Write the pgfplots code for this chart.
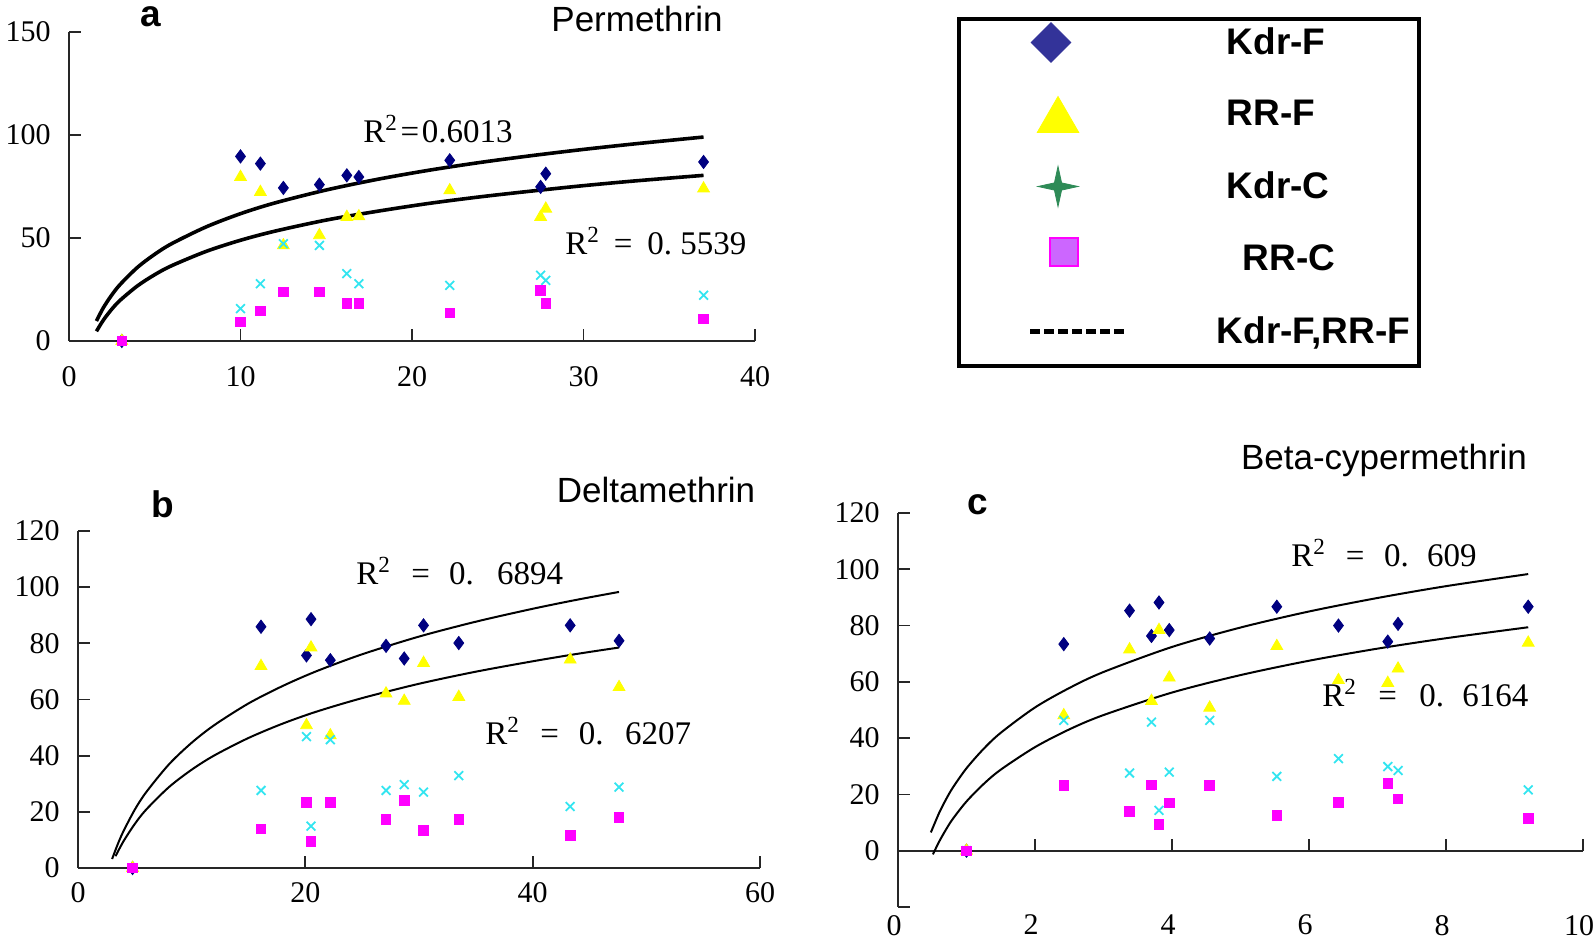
\documentclass[border=0pt]{standalone}
\usepackage{fontspec}
\setmainfont{Liberation Serif}
\newfontfamily\arial{Liberation Sans}
\usepackage{pgfplots}
\usepackage{pgfplotstable}
\pgfplotsset{compat=1.18}

\definecolor{kdrf}{HTML}{000080}
\definecolor{rrf}{HTML}{FFFF00}
\definecolor{kdrc}{HTML}{33E5F0}
\definecolor{rrc}{HTML}{FF00FF}
\definecolor{legblue}{HTML}{333399}
\definecolor{leggreen}{HTML}{2E8B57}
\definecolor{legviolet}{HTML}{CC66FF}

\pgfdeclareplotmark{star4}{%
  \pgfpathmoveto{\pgfqpoint{0pt}{\pgfplotmarksize}}%
  \pgfpathlineto{\pgfqpoint{.18\pgfplotmarksize}{.18\pgfplotmarksize}}%
  \pgfpathlineto{\pgfqpoint{\pgfplotmarksize}{0pt}}%
  \pgfpathlineto{\pgfqpoint{.18\pgfplotmarksize}{-.18\pgfplotmarksize}}%
  \pgfpathlineto{\pgfqpoint{0pt}{-\pgfplotmarksize}}%
  \pgfpathlineto{\pgfqpoint{-.18\pgfplotmarksize}{-.18\pgfplotmarksize}}%
  \pgfpathlineto{\pgfqpoint{-\pgfplotmarksize}{0pt}}%
  \pgfpathlineto{\pgfqpoint{-.18\pgfplotmarksize}{.18\pgfplotmarksize}}%
  \pgfpathclose
  \pgfusepathqfillstroke
}

\pgfplotstableread{
x     kf    rf    kc    rc
3.08  0     0     0     0
10.0  89.6  79.6  15.7  9.2
11.16 86.1  72.3  27.8  14.6
12.5  74.3  46.4  47.2  23.8
14.6  75.9  51.3  46.4  23.8
16.2  80.4  60.2  32.7  18.1
16.9  79.6  60.5  27.8  18.1
22.2  87.7  73.1  27.0  13.6
27.5  74.8  60.2  31.9  24.6
27.8  81.2  64.2  29.4  18.1
37.0  86.9  74.0  22.2  10.8
}\tabA

\pgfplotstableread{
x     kf    rf    kc    rc
4.8   0     0     0     0
16.1  85.9  71.9  27.6  13.9
20.1  75.7  50.8  46.8  23.4
20.5  88.6  78.5  14.9  9.4
22.2  74.0  47.2  45.7  23.4
27.1  79.1  62.1  27.6  17.2
28.7  74.6  59.5  29.7  24.0
30.4  86.4  73.0  27.0  13.3
33.5  80.1  60.9  32.9  17.2
43.3  86.4  74.2  21.9  11.5
47.6  80.9  64.4  28.8  18.1
}\tabB

\pgfplotstableread{
x     kf    rf    kc    rc
1.0   0     0     0     0
2.42  73.4  48.1  46.3  23.2
3.38  85.3  71.5  27.6  14.0
3.70  76.3  53.2  45.7  23.4
3.81  88.2  78.4  14.3  9.3
3.96  78.4  61.5  27.9  17.0
4.55  75.4  50.8  46.3  23.2
5.53  86.7  72.7  26.4  12.5
6.43  80.0  60.6  32.7  17.2
7.15  74.3  59.6  29.9  24.0
7.30  80.6  64.7  28.5  18.4
9.20  86.7  73.9  21.6  11.5
}\tabC

\pgfplotsset{
  panel/.style={scale only axis, anchor=south west, clip=false, enlargelimits=false,
    axis line style={-, line width=0.9pt, black!85},
    every inner x axis line/.append style={-}, every outer x axis line/.append style={-},
    every inner y axis line/.append style={-}, every outer y axis line/.append style={-},
    tick align=inside, major tick length=6pt, tick style={line width=0.9pt, black!85},
    ticklabel style={font=\fontsize{15}{18}\selectfont},
    /pgf/number format/assume math mode=true,
    yticklabel style={anchor=east, inner sep=0pt, xshift=-9pt},
    hide obscured x ticks=false, hide obscured y ticks=false},
  kf/.style={only marks, mark=diamond*, mark size=3.3pt, color=kdrf},
  rf/.style={only marks, mark=triangle*, mark size=3.4pt, color=rrf},
  kc/.style={only marks, mark=x, mark size=3.1pt, color=kdrc, mark options={line width=0.9pt}},
  rc/.style={only marks, mark=square*, mark size=2.4pt, color=rrc},
  mylegimg/.style={legend image code/.code={%
      \path[draw=none, fill=none] (-35.5pt,-10pt) rectangle (48pt,10pt);
      \draw[##1] plot coordinates {(0pt,0pt)};}},
}

\begin{document}
\begin{tikzpicture}
% ---------- panel a ----------
\begin{axis}[axis x line=bottom, axis y line=left, panel,
  at={(34.5pt,299.5pt)}, width=343pt, height=154.5pt,
  xmin=0, xmax=40, ymin=0, ymax=150,
  xtick={0,10,20,30,40}, ytick={0,50,100,150},
  xticklabel style={anchor=north, inner sep=0pt, yshift=-12.5pt}]
\addplot[kf] table[x=x,y=kf] {\tabA};
\addplot[rf] table[x=x,y=rf] {\tabA};
\addplot[kc] table[x=x,y=kc] {\tabA};
\addplot[rc] table[x=x,y=rc] {\tabA};
\addplot[black, line width=1.8pt, smooth] coordinates {(1.6,9.7)(2,16.1)(2.5,22.4)(3,27.6)(4,35.8)(5,42.1)(6,47.3)(8,55.4)(10,61.8)(12,67.0)(15,73.3)(18,78.5)(21,82.9)(24,86.7)(27,90.0)(30,93.0)(33,95.7)(37,99.0)};
\addplot[black, line width=1.8pt, smooth] coordinates {(1.6,4.7)(2,10.1)(2.5,15.5)(3,19.9)(4,26.8)(5,32.2)(6,36.6)(8,43.5)(10,48.9)(12,53.3)(15,58.7)(18,63.0)(21,66.8)(24,70.0)(27,72.8)(30,75.4)(33,77.7)(37,80.4)};
\end{axis}

% ---------- panel b ----------
\begin{axis}[axis x line=bottom, axis y line=left, panel,
  at={(39pt,36pt)}, width=341pt, height=168.5pt,
  xmin=0, xmax=60, ymin=0, ymax=120,
  xtick={0,20,40,60}, ytick={0,20,40,60,80,100,120},
  xticklabel style={anchor=north, inner sep=0pt, yshift=-7pt}]
\addplot[kf] table[x=x,y=kf] {\tabB};
\addplot[rf] table[x=x,y=rf] {\tabB};
\addplot[kc] table[x=x,y=kc] {\tabB};
\addplot[rc] table[x=x,y=rc] {\tabB};
\addplot[black, line width=1pt, smooth] coordinates {(3,3.2)(3.5,8.5)(4,13.1)(5,20.8)(6,27.0)(8,36.9)(10,44.6)(12,50.9)(15,58.6)(18,64.8)(21,70.1)(25,76.1)(30,82.4)(35,87.7)(40,92.3)(44,95.6)(47.6,98.3)};
\addplot[black, line width=1pt, smooth] coordinates {(3.3,4.2)(4,9.5)(5,15.7)(6,20.8)(8,28.8)(10,35.0)(12,40.1)(15,46.3)(18,51.4)(21,55.7)(25,60.5)(30,65.6)(35,69.9)(40,73.6)(44,76.3)(47.6,78.5)};
\end{axis}

% ---------- panel c ----------
\begin{axis}[axis x line=middle, axis y line=left, panel,
  at={(449pt,16.5pt)}, width=342.5pt, height=197pt,
  xmin=0, xmax=10, ymin=-20, ymax=120,
  xtick={0,2,4,6,8,10}, ytick={-20,0,20,40,60,80,100,120},
  yticklabels={{},0,20,40,60,80,100,120},
  xticklabel style={anchor=north, inner sep=0pt, yshift=-32pt, xshift=-2pt}]
\addplot[kf] table[x=x,y=kf] {\tabC};
\addplot[rf] table[x=x,y=rf] {\tabC};
\addplot[kc] table[x=x,y=kc] {\tabC};
\addplot[rc] table[x=x,y=rc] {\tabC};
\addplot[black, line width=1pt, smooth] coordinates {(0.48,6.5)(0.6,13.4)(0.7,18.2)(0.8,22.4)(1,29.3)(1.25,36.2)(1.5,41.9)(2,50.9)(2.5,57.8)(3,63.5)(4,72.4)(5,79.3)(6,85.0)(7,89.8)(8,94.0)(9.2,98.3)};
\addplot[black, line width=1pt, smooth] coordinates {(0.51,-1.3)(0.6,3.2)(0.7,7.5)(0.8,11.3)(1,17.5)(1.25,23.7)(1.5,28.8)(2,36.8)(2.5,43.1)(3,48.2)(4,56.2)(5,62.4)(6,67.5)(7,71.8)(8,75.5)(9.2,79.4)};
\end{axis}

% ---------- legend ----------
\begin{axis}[hide axis, scale only axis, width=1pt, height=1pt,
  xmin=0, xmax=1, ymin=0, ymax=1,
  at={(478.5pt,461.25pt)}, anchor=north west, mylegimg,
  legend style={at={(0,1)}, anchor=north west, draw=black, line width=2pt,
    inner xsep=0pt, inner ysep=1.5pt, row sep=16pt,
    /tikz/every odd column/.append style={column sep=49pt},
    cells={anchor=west},
    nodes={inner sep=0pt, text width=96pt, align=left,
      font=\arial\bfseries\fontsize{18.5}{22}\selectfont}}]
\addlegendimage{only marks, mark=square*, mark size=7pt,
  mark options={xshift=10.5pt, rotate=45, fill=legblue, draw=legblue, line width=0.4pt}}
\addlegendentry{Kdr-F}
\addlegendimage{only marks, mark=triangle*, mark size=12pt,
  mark options={xshift=14pt, yshift=-3pt, fill=rrf, draw=rrf, line width=0.4pt}}
\addlegendentry{RR-F}
\addlegendimage{only marks, mark=star4, mark size=10pt,
  mark options={xshift=14pt, fill=leggreen, draw=leggreen, line width=0.4pt}}
\addlegendentry{Kdr-C}
\addlegendimage{only marks, mark=square*, mark size=7pt,
  mark options={xshift=17pt, yshift=3.5pt, fill=legviolet, draw=rrc, line width=1pt}}
\addlegendentry{\hspace*{8pt}RR-C}
\addlegendimage{legend image code/.code={%
  \path[draw=none, fill=none] (-35.5pt,-16pt) rectangle (48pt,10pt);
  \draw[black, line width=2.8pt, dash pattern=on 5pt off 2pt] (0pt,0pt) -- (48pt,0pt);}}
\addlegendentry{\hspace*{-5pt}Kdr-F,RR-F}
\end{axis}

% ---------- texts (pixel coordinates) ----------
\begin{scope}[x=0.5pt, y=-0.5pt, shift={(0pt,470pt)}]
\node[anchor=base, inner sep=0pt, font=\arial\bfseries\fontsize{18.5}{22}\selectfont] at (151,27) {a};
\node[anchor=base, inner sep=0pt, font=\arial\bfseries\fontsize{18.5}{22}\selectfont] at (163,518) {b};
\node[anchor=base, inner sep=0pt, font=\arial\bfseries\fontsize{18.5}{22}\selectfont] at (978,515) {c};
\node[anchor=base, inner sep=0pt, font=\arial\fontsize{17.5}{21}\selectfont] at (637,32) {Permethrin};
\node[anchor=base, inner sep=0pt, font=\arial\fontsize{17.5}{21}\selectfont] at (656,503) {Deltamethrin};
\node[anchor=base, inner sep=0pt, font=\arial\fontsize{17.5}{21}\selectfont] at (1384,470) {Beta-cypermethrin};
\begin{scope}[every node/.style={anchor=base west, inner sep=0pt, font=\fontsize{16.5}{19}\selectfont}]
\node at (363,143) {R\textsuperscript{2}\hspace{0.08em}=\hspace{0.08em}0.6013};
\node at (565,255) {R\textsuperscript{2}\hspace{0.42em}=\hspace{0.45em}0.\hspace{0.25em}5539};
\node at (356,585) {R\textsuperscript{2}\hspace{0.62em}=\hspace{0.58em}0.\hspace{0.7em}6894};
\node at (485,745) {R\textsuperscript{2}\hspace{0.62em}=\hspace{0.6em}0.\hspace{0.65em}6207};
\node at (1291,567) {R\textsuperscript{2}\hspace{0.6em}=\hspace{0.6em}0.\hspace{0.55em}609};
\node at (1322,707) {R\textsuperscript{2}\hspace{0.65em}=\hspace{0.68em}0.\hspace{0.55em}6164};
\end{scope}
\end{scope}

\pgfresetboundingbox
\useasboundingbox (0pt,0pt) rectangle (797.5pt,470pt);
\end{tikzpicture}
\end{document}
